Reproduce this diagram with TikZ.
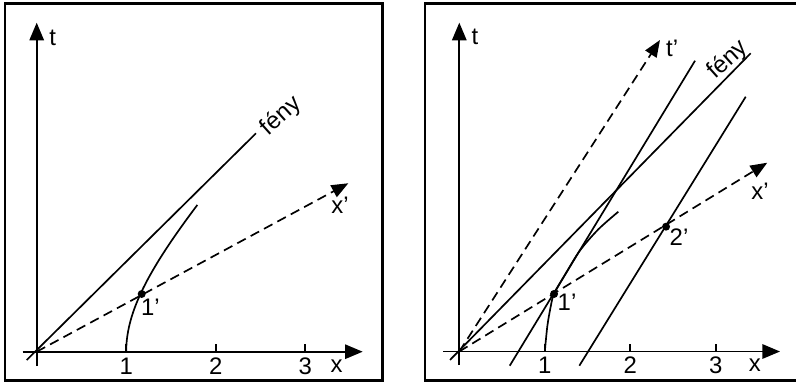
\documentclass[tikz,border=0pt]{standalone}
\usepackage{fontspec}
\setmainfont{Liberation Sans}
\usepackage{tikz}
\usetikzlibrary{arrows.meta}
\newcommand{\labfont}{\fontsize{17}{19}\selectfont}
\newcommand{\axtick}[3]{%
  \draw (#1,0) -- (#1,0.09);
  \node (#2) at (#1,-0.16) {#3};
}

\begin{document}
\begin{tikzpicture}[x=1cm,y=1cm,line width=1.2pt,
    >={Triangle[length=0.44cm,width=0.36cm]},
    primed/.style={dash pattern=on 0.24cm off 0.14cm,-{Triangle[length=0.42cm,width=0.33cm]}},
    frame/.style={line width=2pt},
    every node/.style={font=\labfont,inner sep=0pt}]
    \useasboundingbox (0,0) rectangle (19.9,9.575);
    \draw[frame] (0.125,0.058) rectangle (9.5675,9.4925);
    \draw[frame] (19.95,9.4925) -- (10.625,9.4925) -- (10.625,0.058) -- (19.95,0.058);

    % left panel
    \begin{scope}[shift={(0.9175,0.7825)},x=2.2375cm,y=2.2375cm]
      \draw[->] (0,-0.16) -- (0,3.676);
      \draw[->] (-0.156,0) -- (3.642,0);
      \node (tL) at (0.179,3.502) {t};
      \node (xL) at (3.352,-0.16) {x};
      \axtick{1}{oneL}{1}
      \axtick{2}{twoL}{2}
      \axtick{3}{threeL}{3}
      \draw (-0.112,-0.093) -- (2.45,2.44);
      \node[rotate=42] (fenyL) at (2.73,2.63) {fény};
      \draw[primed] (0,0) -- (3.482,1.882);
      \node (xpL) at (3.388,1.639) {x’};
      \draw plot[domain=0:1.19,samples=40] ({cosh(\x)},{1.1*sinh(\x)});
      \coordinate (eL) at (1.173,0.645);
      \fill (eL) circle (0.1cm);
      \node (eLlab) at (1.27,0.5) {1’};
    \end{scope}

    % right panel
    \begin{scope}[shift={(11.4825,0.7875)},x=2.1375cm,y=2.1375cm]
      \draw[->] (0,-0.158) -- (0,3.846);
      \draw[->] (-0.187,0) -- (3.751,0);
      \node (tR) at (0.184,3.682) {t};
      \node (xR) at (3.456,-0.165) {x};
      \axtick{1}{oneR}{1}
      \axtick{2}{twoR}{2}
      \axtick{3}{threeR}{3}
      \draw (-0.109,-0.099) -- (3.408,3.488);
      \node[rotate=42] (fenyR) at (3.14,3.41) {fény};
      \draw (0.59,-0.166) -- (2.757,3.401);
      \draw (1.404,-0.166) -- (3.35,2.98);
      \draw[primed] (0,0) -- (2.347,3.643);
      \node (tpR) at (2.49,3.546) {t’};
      \draw[primed] (0,0) -- (3.602,2.208);
      \node (xpR) at (3.518,1.869) {x’};
      \draw plot[smooth] coordinates {(1,0) (1.03,0.3) (1.07,0.53) (1.108,0.673) (1.25,0.92) (1.41,1.18) (1.626,1.429) (1.86,1.635)};
      \coordinate (eR) at (1.108,0.673);
      \coordinate (fR) at (2.418,1.46);
      \fill (eR) circle (0.1cm);
      \fill (fR) circle (0.1cm);
      \node (eRlab) at (1.26,0.575) {1’};
      \node (fRlab) at (2.57,1.335) {2’};
    \end{scope}
  \end{tikzpicture}
\end{document}
